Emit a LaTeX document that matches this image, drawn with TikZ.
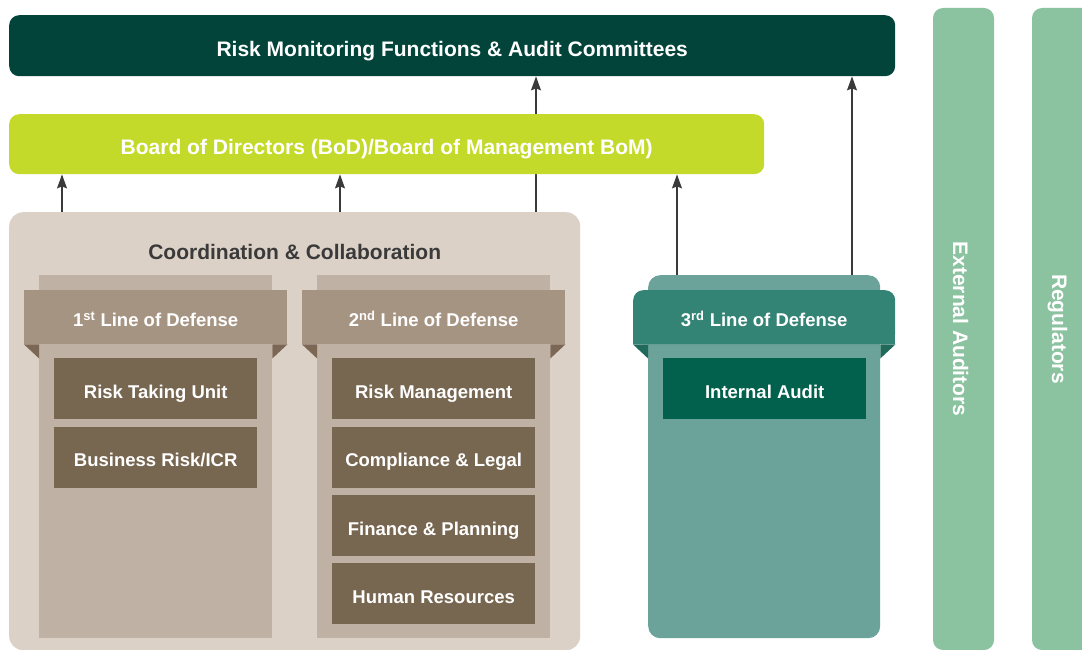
\documentclass[tikz,border=0pt]{standalone}
\usepackage{fontspec}
\setmainfont{Liberation Sans}
\usetikzlibrary{arrows.meta}
\usetikzlibrary{positioning}
\usetikzlibrary{backgrounds}
\definecolor{rmfgreen}{HTML}{03443A}
\definecolor{bodlime}{HTML}{C4DA2B}
\definecolor{coordbg}{HTML}{DCD1C7}
\definecolor{titlegray}{HTML}{3A3A3A}
\definecolor{panelbg}{HTML}{BFB1A3}
\definecolor{bandbg}{HTML}{A69482}
\definecolor{unitbg}{HTML}{776650}
\definecolor{foldbrown}{HTML}{7B6754}
\definecolor{tealpanel}{HTML}{6BA29A}
\definecolor{tealband}{HTML}{348476}
\definecolor{tealfold}{HTML}{1F6A5B}
\definecolor{auditbg}{HTML}{01614D}
\definecolor{sidebg}{HTML}{8BC2A0}
\definecolor{arrowgray}{HTML}{3A3A3A}
\tikzset{
	big font/.style={font=\fontsize{21}{25}\selectfont\bfseries},
	small font/.style={font=\fontsize{18.5}{22}\selectfont\bfseries},
	big box/.style={big font, text height=21pt, text depth=0pt},
	small box/.style={small font, text height=19.2pt, text depth=0pt},
	bar/.style={rectangle, rounded corners=10pt, inner sep=0pt, anchor=north west, text=white, big box},
	side bar/.style={rectangle, rounded corners=10pt, inner sep=0pt, fill=sidebg, text=white, big box,
		minimum width=642, minimum height=61, rotate=-90},
	panel/.style={rectangle, inner sep=0pt, anchor=north west, minimum width=233, minimum height=363},
	band/.style={rectangle, inner sep=0pt, anchor=north west, text=white, small box,
		minimum width=263, minimum height=54},
	unit/.style={rectangle, inner sep=0pt, text=white, small box, minimum width=203, minimum height=61},
	link/.style={->, draw=arrowgray, fill=arrowgray, line width=1.1pt}
}

\begin{document}
\begin{tikzpicture}[x=1pt,y=-1pt,>={Stealth[length=14pt,width=10pt,inset=2pt]}]
	\useasboundingbox (0,0) rectangle (1082,650);
	% top of the hierarchy
	\node[bar, fill=rmfgreen, minimum width=886, minimum height=61] (rmf) at (9,15)
		{Risk Monitoring Functions \& Audit Committees};
	\node[bar, fill=bodlime, minimum width=755, minimum height=60] (bod) at (9,114)
		{Board of Directors (BoD)/Board of Management BoM)};
	% coordination box with 1st and 2nd line
	\node[panel, fill=coordbg, rounded corners=14pt, minimum width=571, minimum height=438] (coord) at (9,212) {};
	\node[big box, text=titlegray] (cctitle) at ([yshift=-37pt]coord.north) {Coordination \& Collaboration};
	
	\node[panel, fill=panelbg] (p1) at (39,275) {};
	\node[band, fill=bandbg] (b1) at (24,290) {1\textsuperscript{st} Line of Defense};
	\fill[foldbrown] (b1.south west) -- ++(15,0) -- ++(0,14) -- cycle;
	\fill[foldbrown] (b1.south east) -- ++(-15,0) -- ++(0,14) -- cycle;
	\node[unit, fill=unitbg, anchor=north west] (rtu) at (54,358) {Risk Taking Unit};
	\node[unit, fill=unitbg, below=7pt of rtu] (bri) {Business Risk/ICR};
	
	\node[panel, fill=panelbg] (p2) at (317,275) {};
	\node[band, fill=bandbg] (b2) at (302,290) {2\textsuperscript{nd} Line of Defense};
	\fill[foldbrown] (b2.south west) -- ++(15,0) -- ++(0,14) -- cycle;
	\fill[foldbrown] (b2.south east) -- ++(-15,0) -- ++(0,14) -- cycle;
	\node[unit, fill=unitbg, anchor=north west] (rm) at (332,358) {Risk Management};
	\node[unit, fill=unitbg, below=7pt of rm] (cl) {Compliance \& Legal};
	\node[unit, fill=unitbg, below=7pt of cl] (fp) {Finance \& Planning};
	\node[unit, fill=unitbg, below=7pt of fp] (hr) {Human Resources};
	
	% 3rd line
	\node[panel, fill=tealpanel, rounded corners=12pt, minimum width=232] (p3) at (648,275) {};
	\node[band, fill=tealband, rounded corners=10pt, minimum width=262] (b3) at (633,290) {};
	\fill[tealband] ([yshift=12pt]b3.south west) rectangle (b3.south east);
	\node[small box, text=white, inner sep=0pt] (b3text) at (b3.center) {3\textsuperscript{rd} Line of Defense};
	\fill[tealfold] (b3.south west) -- ++(15,0) -- ++(0,14) -- cycle;
	\fill[tealfold] (b3.south east) -- ++(-15,0) -- ++(0,14) -- cycle;
	\node[unit, fill=auditbg, anchor=north west] (ia) at (663,358) {Internal Audit};
	
	% outside parties
	\node[side bar] (ext) at (963.5,329) {External Auditors};
	\node[side bar] (reg) at (1062.5,329) {Regulators};
	
	% reporting lines
	\begin{scope}[on background layer]
		\draw[link] ([xshift=53pt]coord.north west) -- ([xshift=53pt]coord.north west |- bod.south);
		\draw[link] ([xshift=331pt]coord.north west) -- ([xshift=331pt]coord.north west |- bod.south);
		\draw[link] ([xshift=527pt]coord.north west) -- ([xshift=527pt]coord.north west |- rmf.south);
		\draw[link] ([xshift=29pt]p3.north west) -- ([xshift=29pt]p3.north west |- bod.south);
		\draw[link] ([xshift=204pt]p3.north west) -- ([xshift=204pt]p3.north west |- rmf.south);
	\end{scope}
\end{tikzpicture}
\end{document}
